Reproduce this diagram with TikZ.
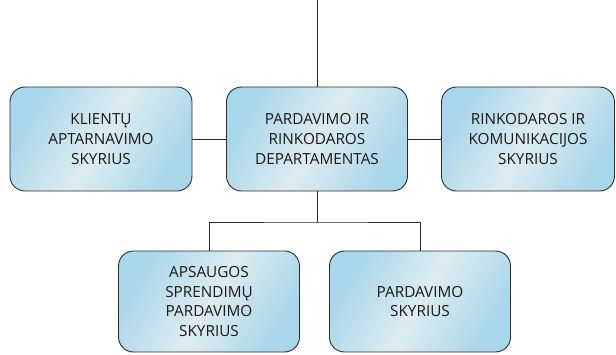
\documentclass[tikz,border=0pt]{standalone}
\usepackage{fontspec}
\setmainfont{Open Sans}
\usetikzlibrary{positioning}

\definecolor{boxblue}{RGB}{168,214,234}
\definecolor{boxlight}{RGB}{222,236,241}
\definecolor{boxedge}{RGB}{45,45,45}

\begin{document}
\begin{tikzpicture}[x=1pt, y=1pt, node distance=216pt, on grid,
    unit/.style={rectangle, rounded corners=15pt, draw=boxedge, line width=0.9pt,
        minimum width=181pt, minimum height=104pt, align=center,
        font=\fontsize{15.3}{19.8}\selectfont, text=black!90,
        left color=boxblue, right color=boxblue, middle color=boxlight, shading angle=60},
    link/.style={draw=black!85, line width=0.8pt}]

    \useasboundingbox (0,0) rectangle (616,354);

    \node[unit] (dep) at (317,215) {PARDAVIMO IR\\RINKODAROS\\DEPARTAMENTAS};
    \node[unit, left=216pt of dep, minimum width=182pt] (klient) {KLIENTŲ\\APTARNAVIMO\\SKYRIUS};
    \node[unit, right=211pt of dep, minimum width=173pt] (rink) {RINKODAROS IR\\KOMUNIKACIJOS\\SKYRIUS};
    \node[unit, minimum height=101pt] (apsaug) at (209,52.5) {APSAUGOS\\SPRENDIMŲ\\PARDAVIMO\\SKYRIUS};
    \node[unit, right=211pt of apsaug, minimum height=101pt] (pard) {PARDAVIMO\\SKYRIUS};

    \coordinate (top) at (dep.north |- 0,354);
    \coordinate (fork) at (dep.south |- 0,132);

    \path[link]
        (top) -- (dep.north)
        (klient) -- (dep)
        (dep) -- (rink)
        (dep.south) -- (fork)
        (apsaug.north) |- (fork) -| (pard.north);

\end{tikzpicture}
\end{document}
